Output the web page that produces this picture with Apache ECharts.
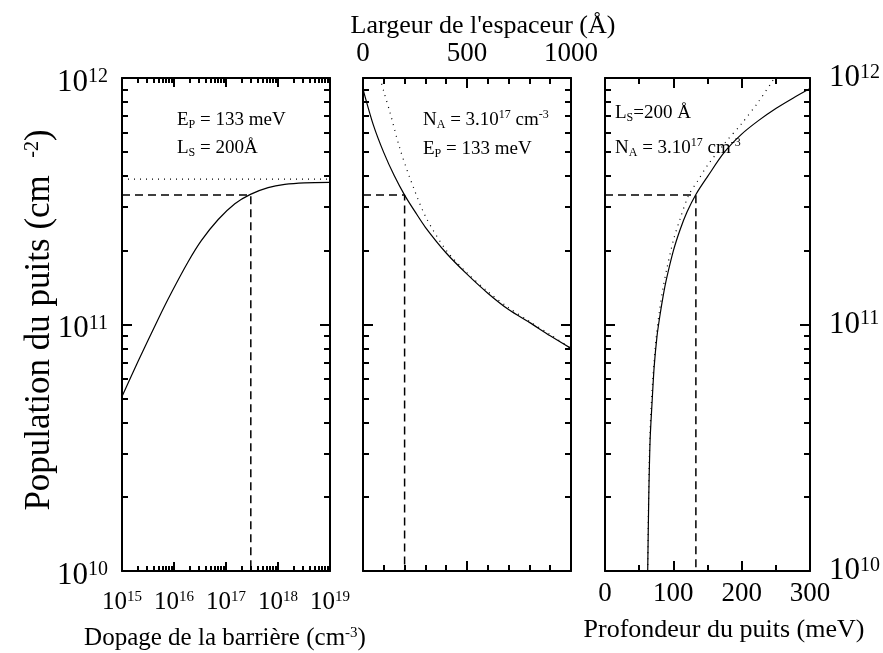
<!DOCTYPE html>
<html><head><meta charset="utf-8">
<script src="https://cdn.jsdelivr.net/npm/echarts@6/dist/echarts.min.js"></script>
<style>html,body{margin:0;padding:0;background:#fff}#c{width:883px;height:653px}</style>
</head><body><div id="c"></div>
<script>
// ---------- Panel 1 : population vs barrier doping ----------
const dopX   = [1e15, 2.04e15, 4.9e15, 8.9e15, 1.86e16, 3.35e16, 7.08e16, 1.48e17, 2.95e17, 6.46e17, 1.35e18, 3.24e18, 1e19];
const dopPop = [5.1e10, 7.09e10, 1.046e11, 1.345e11, 1.793e11, 2.188e11, 2.666e11, 3.089e11, 3.372e11, 3.589e11, 3.701e11, 3.757e11, 3.775e11];
const dopLimX   = [1e15, 1e19];
const dopLimPop = [3.89e11, 3.89e11];
// ---------- Panel 2 : population vs spacer width ----------
const spX   = [0, 50, 100, 150, 200, 250, 300, 400, 500, 600, 700, 800, 900, 1000];
const spPop = [9.02e11, 6.44e11, 4.98e11, 4.02e11, 3.35e11, 2.87e11, 2.48e11, 1.95e11, 1.60e11, 1.34e11, 1.15e11, 1.02e11, 9.0e10, 8.0e10];
const spDotX   = [82, 100, 130, 175, 225, 300, 400, 500, 600, 700, 800, 900, 1000];
const spDotPop = [1e12, 8.81e11, 7.24e11, 5.25e11, 3.94e11, 2.75e11, 2.0e11, 1.62e11, 1.36e11, 1.17e11, 1.03e11, 9.1e10, 8.0e10];
// ---------- Panel 3 : population vs well depth ----------
const dpX   = [62.5, 64, 66, 69, 72, 76, 80, 85, 90, 100, 110, 120, 133, 150, 175, 200, 225, 250, 275, 300];
const dpPop = [1.0e10, 1.95e10, 3.39e10, 4.9e10, 6.76e10, 8.91e10, 1.07e11, 1.30e11, 1.53e11, 1.99e11, 2.43e11, 2.86e11, 3.37e11, 3.98e11, 5.01e11, 5.92e11, 6.73e11, 7.52e11, 8.28e11, 9.06e11];
const dpDotX   = [62.5, 64, 66, 70, 75, 80, 85, 90, 100, 110, 122.6, 135, 150, 175, 200, 225, 248];
const dpDotPop = [1e10, 2.14e10, 3.72e10, 6.03e10, 8.91e10, 1.15e11, 1.41e11, 1.66e11, 2.19e11, 2.69e11, 3.35e11, 3.80e11, 4.42e11, 5.43e11, 6.53e11, 8.04e11, 1e12];
// ---------- Working point (dashed guides) ----------
const workPop = 3.35e11;
const workDop = 3e17;
const workSpacer = 200;
const workDepth = 133;
// ---------- Axis ranges and ticks ----------
const popRange = [1e10, 1e12];
const popDecades = [1e10, 1e11];
const dopRange = [1e15, 1e19];
const dopDecades = [1e15, 1e16, 1e17, 1e18];
const minorMult = [2, 3, 4, 5, 6, 7, 8, 9];
const spRange = [0, 1000];
const spTickStep = 500;
const dpRange = [0, 300];
const dpTickStep = 100;

const FONT = 'Liberation Serif';
const popMinor = [];
popDecades.forEach(d => minorMult.forEach(m => popMinor.push(d * m)));
const dopMinor = [];
dopDecades.forEach(d => minorMult.forEach(m => dopMinor.push(d * m)));

const zip = (a, b) => a.map((v, i) => [v, b[i]]);
const powLabel = v => '{b|10}{s|' + Math.round(Math.log10(v)) + '}';
const powRich = (bs, ss) => ({
  b: {fontFamily: FONT, fontSize: bs, color: '#000', lineHeight: bs},
  s: {fontFamily: FONT, fontSize: ss, color: '#000', verticalAlign: 'top', lineHeight: ss}
});
const TW = 2;

const grids = [
  {left: 122, top: 78, width: 208, height: 493},
  {left: 363, top: 78, width: 208, height: 493},
  {left: 605, top: 78, width: 208, height: 493}
];

function popAxis(gi, pos, kind, label) {
  const a = {
    type: 'log', logBase: 10, gridIndex: gi, position: pos, min: popRange[0], max: popRange[1],
    splitLine: {show: false},
    axisLine: {show: kind === 'major', onZero: false, lineStyle: {color: '#000', width: TW}},
    axisTick: {show: true, inside: true, length: kind === 'major' ? 10 : 6, lineStyle: {color: '#000', width: TW}},
    axisLabel: {show: false}
  };
  if (kind === 'minor') a.axisTick.customValues = popMinor;
  if (label) a.axisLabel = {show: true, margin: label.margin, padding: label.padding, formatter: powLabel, rich: powRich(31, 20)};
  return a;
}
const yAxes = [];
[0, 1, 2].forEach(gi => {
  yAxes.push(popAxis(gi, 'left', 'major', gi === 0 ? {margin: 14, padding: [9, 0, 0, 0]} : null));
  yAxes.push(popAxis(gi, 'left', 'minor'));
  yAxes.push(popAxis(gi, 'right', 'major', gi === 2 ? {margin: 19, padding: [0, 0, 0, 0]} : null));
  yAxes.push(popAxis(gi, 'right', 'minor'));
});

function dopAxis(pos, kind, label) {
  const a = {
    type: 'log', logBase: 10, gridIndex: 0, position: pos, min: dopRange[0], max: dopRange[1],
    splitLine: {show: false},
    axisLine: {show: kind === 'major', onZero: false, lineStyle: {color: '#000', width: TW}},
    axisTick: {show: true, inside: true, length: kind === 'major' ? 9 : 5, lineStyle: {color: '#000', width: TW}},
    axisLabel: {show: false}
  };
  if (kind === 'minor') a.axisTick.customValues = dopMinor;
  if (label) a.axisLabel = {show: true, margin: 19, interval: 0, hideOverlap: false, formatter: powLabel, rich: powRich(25, 15)};
  return a;
}
function linAxis(gi, pos, range, step, minorSplit, label) {
  return {
    type: 'value', gridIndex: gi, position: pos, min: range[0], max: range[1], interval: step,
    splitLine: {show: false},
    axisLine: {show: true, onZero: false, lineStyle: {color: '#000', width: TW}},
    axisTick: {show: true, inside: true, length: 10, lineStyle: {color: '#000', width: TW}},
    minorTick: {show: true, splitNumber: minorSplit, length: 6, lineStyle: {color: '#000', width: TW}},
    minorSplitLine: {show: false},
    axisLabel: label ? {show: true, margin: label.margin, interval: 0, hideOverlap: false, showMinLabel: true, showMaxLabel: true,
      fontFamily: FONT, fontSize: 27, color: '#000', formatter: v => String(v)} : {show: false}
  };
}
const xAxes = [
  dopAxis('bottom', 'major', true),
  dopAxis('bottom', 'minor'),
  dopAxis('top', 'major'),
  dopAxis('top', 'minor'),
  linAxis(1, 'bottom', spRange, spTickStep, 5, null),
  linAxis(1, 'top', spRange, spTickStep, 5, {margin: 11}),
  linAxis(2, 'bottom', dpRange, dpTickStep, 2, {margin: 9}),
  linAxis(2, 'top', dpRange, dpTickStep, 2, null)
];

const solid = {color: '#000', width: 1.2, type: 'solid'};
const dotted = {color: '#000', width: 1.2, type: [1, 5]};
const dashed = {color: '#000', width: 1.5, type: [8, 5]};
function ser(xi, yi, data, style, smooth) {
  return {type: 'line', xAxisIndex: xi, yAxisIndex: yi, data: data, showSymbol: false, symbol: 'none',
    smooth: smooth || false, lineStyle: style, silent: true, animation: false, clip: true};
}
const series = [
  ser(0, 0, zip(dopX, dopPop), solid, 0.3),
  ser(0, 0, zip(dopLimX, dopLimPop), dotted),
  ser(0, 0, [[dopRange[0], workPop], [workDop, workPop], [workDop, popRange[0]]], dashed),
  ser(4, 4, zip(spX, spPop), solid, 0.3),
  ser(4, 4, zip(spDotX, spDotPop), dotted, 0.3),
  ser(4, 4, [[spRange[0], workPop], [workSpacer, workPop], [workSpacer, popRange[0]]], dashed),
  ser(6, 8, zip(dpX, dpPop), solid, 0.3),
  ser(6, 8, zip(dpDotX, dpDotPop), dotted, 0.3),
  ser(6, 8, [[dpRange[0], workPop], [workDepth, workPop], [workDepth, popRange[0]]], dashed)
];

const annRich = {
  n: {fontFamily: FONT, fontSize: 19, color: '#000', lineHeight: 22},
  sub: {fontFamily: FONT, fontSize: 12, color: '#000', verticalAlign: 'bottom', lineHeight: 14},
  sup: {fontFamily: FONT, fontSize: 12, color: '#000', verticalAlign: 'top', lineHeight: 12}
};
function txt(x, y, text, rich) {
  return {type: 'text', x: x, y: y, silent: true,
    style: {text: text, rich: rich, fill: '#000', textAlign: 'left', textVerticalAlign: 'middle'}};
}
const titleRich = (fs, ss) => ({
  t: {fontFamily: FONT, fontSize: fs, color: '#000', lineHeight: fs},
  s: {fontFamily: FONT, fontSize: ss, color: '#000', verticalAlign: 'top', lineHeight: ss}
});
const graphics = [
  txt(177, 120, '{n|E}{sub|P}{n| = 133 meV}', annRich),
  txt(177, 148, '{n|L}{sub|S}{n| = 200Å}', annRich),
  txt(423, 120, '{n|N}{sub|A}{n| = 3.10}{sup|17}{n| cm}{sup|-3}', annRich),
  txt(423, 149, '{n|E}{sub|P}{n| = 133 meV}', annRich),
  txt(615, 113, '{n|L}{sub|S}{n|=200 Å}', annRich),
  txt(615, 148, '{n|N}{sub|A}{n| = 3.10}{sup|17}{n| cm}{sup|-3}', annRich),
  {type: 'text', x: 483, y: 26, silent: true, style: {text: "Largeur de l'espaceur (Å)", fontFamily: FONT, fontSize: 26, fill: '#000', textAlign: 'center', textVerticalAlign: 'middle'}},
  {type: 'text', x: 225, y: 638, silent: true, style: {text: '{t|Dopage de la barrière (cm}{s|-3}{t|)}', rich: titleRich(25, 15), textAlign: 'center', textVerticalAlign: 'middle'}},
  {type: 'text', x: 724, y: 630, silent: true, style: {text: 'Profondeur du puits (meV)', fontFamily: FONT, fontSize: 26, fill: '#000', textAlign: 'center', textVerticalAlign: 'middle'}},
  {type: 'text', x: 40, y: 320, rotation: Math.PI / 2, silent: true, style: {text: '{t|Population du puits (cm  }{s|-2}{t|)}', rich: titleRich(35, 20), textAlign: 'center', textVerticalAlign: 'middle'}}
];

const chart = echarts.init(document.getElementById('c'), null, {renderer: 'canvas'});
chart.setOption({
  animation: false,
  backgroundColor: '#fff',
  grid: grids,
  xAxis: xAxes,
  yAxis: yAxes,
  series: series,
  graphic: graphics
});
</script></body></html>
